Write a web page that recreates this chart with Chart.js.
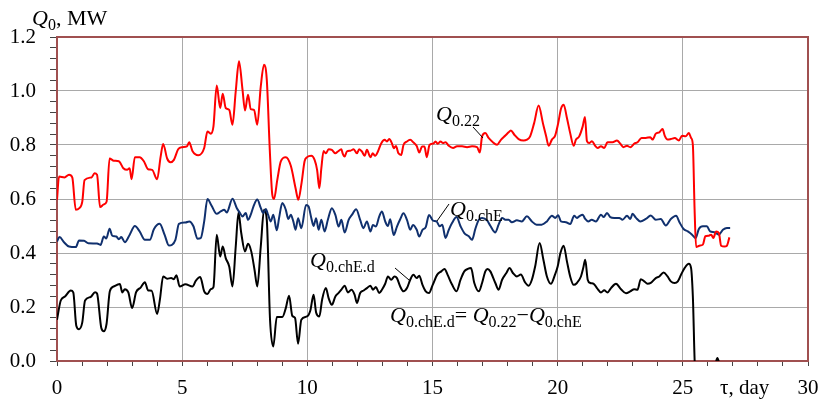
<!DOCTYPE html>
<html>
<head>
<meta charset="utf-8">
<script src="https://cdn.jsdelivr.net/npm/chart.js@4.4.1/dist/chart.umd.min.js"></script>
<style>
html,body{margin:0;padding:0;background:#ffffff;}
canvas{display:block;}
</style>
</head>
<body>
<canvas id="c" width="829" height="408"></canvas>
<script>
// ---- Data ----
// Q0.22 (red)
const tauRed = [0.00,0.08,0.30,0.48,0.61,0.75,0.88,1.01,1.10,1.38,1.50,1.60,1.72,1.87,1.98,2.10,2.27,2.47,2.65,2.80,2.90,2.98,3.11,3.30,3.47,3.64,3.80,4.00,4.14,4.24,4.40,4.53,4.67,4.84,5.00,5.19,5.28,5.41,5.64,5.88,6.01,6.14,6.25,6.38,6.52,6.62,6.74,6.88,7.01,7.14,7.27,7.41,7.51,7.63,7.74,7.87,8.00,8.14,8.27,8.38,8.50,8.60,8.67,8.80,8.94,9.14,9.34,9.53,9.64,9.77,9.89,9.99,10.16,10.29,10.39,10.48,10.56,10.65,10.74,10.85,10.98,11.12,11.22,11.36,11.41,11.49,11.58,11.72,11.85,11.98,12.07,12.18,12.29,12.38,12.52,12.61,12.71,12.82,12.95,13.09,13.18,13.27,13.38,13.45,13.54,13.64,13.75,13.84,13.98,14.11,14.24,14.37,14.47,14.58,14.68,14.77,14.88,15.03,15.12,15.21,15.32,15.42,15.52,15.65,15.82,15.98,16.18,16.38,16.58,16.78,16.89,16.98,17.11,17.24,17.38,17.58,17.74,17.91,18.04,18.13,18.27,18.44,18.64,18.77,18.90,19.06,19.24,19.41,19.54,19.64,19.77,19.90,20.02,20.13,20.24,20.37,20.50,20.64,20.73,20.86,21.00,21.09,21.17,21.26,21.37,21.50,21.60,21.73,21.86,21.99,22.19,22.37,22.50,22.63,22.77,22.90,23.06,23.19,23.35,23.52,23.70,23.79,23.92,24.06,24.19,24.28,24.39,24.52,24.68,24.84,24.97,25.11,25.24,25.33,25.40,25.47,25.53,25.66,25.80,25.90,26.04,26.13,26.22,26.33,26.44,26.53,26.66,26.76,26.86];
const q022 = [0.597,0.683,0.680,0.690,0.680,0.560,0.565,0.590,0.670,0.680,0.695,0.690,0.570,0.580,0.590,0.750,0.742,0.740,0.714,0.708,0.714,0.673,0.755,0.755,0.740,0.710,0.708,0.673,0.757,0.804,0.750,0.736,0.745,0.784,0.792,0.795,0.810,0.778,0.762,0.789,0.850,0.842,0.869,1.020,0.937,0.990,0.937,0.930,0.875,0.999,1.110,1.005,0.928,0.986,0.933,0.930,0.875,1.017,1.097,1.042,0.782,0.616,0.600,0.671,0.739,0.755,0.723,0.640,0.597,0.660,0.740,0.755,0.760,0.745,0.708,0.640,0.714,0.778,0.769,0.784,0.782,0.769,0.776,0.784,0.769,0.757,0.776,0.779,0.784,0.769,0.784,0.776,0.760,0.782,0.755,0.769,0.760,0.776,0.806,0.819,0.813,0.822,0.806,0.788,0.796,0.769,0.763,0.800,0.813,0.819,0.809,0.796,0.772,0.794,0.794,0.755,0.800,0.805,0.813,0.805,0.813,0.807,0.810,0.797,0.789,0.795,0.795,0.792,0.795,0.792,0.772,0.832,0.844,0.826,0.813,0.801,0.820,0.835,0.847,0.854,0.838,0.822,0.817,0.820,0.832,0.881,0.946,0.881,0.832,0.797,0.820,0.835,0.880,0.933,0.949,0.900,0.844,0.797,0.820,0.832,0.869,0.904,0.814,0.807,0.814,0.797,0.789,0.795,0.789,0.810,0.810,0.817,0.805,0.792,0.797,0.792,0.805,0.810,0.826,0.826,0.829,0.820,0.842,0.847,0.859,0.834,0.820,0.822,0.826,0.817,0.834,0.832,0.844,0.826,0.801,0.560,0.422,0.427,0.431,0.462,0.464,0.468,0.456,0.480,0.474,0.427,0.424,0.427,0.458];

// Q0.chE (dark blue)
const tauBlue = [0.00,0.10,0.28,0.48,0.75,0.88,1.08,1.25,1.60,1.74,1.87,1.97,2.10,2.20,2.37,2.47,2.57,2.71,2.90,3.11,3.30,3.51,3.71,3.87,4.10,4.30,4.47,4.73,4.87,5.13,5.28,5.45,5.61,5.74,5.88,6.01,6.17,6.38,6.54,6.68,6.78,7.01,7.18,7.31,7.41,7.54,7.63,7.74,7.85,8.00,8.14,8.24,8.34,8.43,8.54,8.64,8.78,8.87,9.00,9.14,9.24,9.34,9.44,9.53,9.63,9.76,9.95,10.05,10.16,10.25,10.35,10.45,10.56,10.69,10.82,10.98,11.12,11.25,11.36,11.49,11.65,11.78,11.95,12.11,12.24,12.38,12.52,12.62,12.74,12.87,12.98,13.11,13.22,13.31,13.45,13.58,13.71,13.84,13.98,14.11,14.22,14.37,14.47,14.60,14.73,14.86,15.02,15.16,15.29,15.39,15.52,15.65,15.78,15.96,16.12,16.27,16.45,16.58,16.71,16.85,16.98,17.18,17.31,17.51,17.64,17.78,17.91,18.04,18.17,18.37,18.57,18.77,18.97,19.16,19.36,19.57,19.77,19.90,20.02,20.13,20.33,20.50,20.66,20.77,20.86,21.00,21.10,21.22,21.36,21.53,21.73,21.84,21.97,22.10,22.26,22.46,22.59,22.77,22.90,22.99,23.13,23.30,23.52,23.72,23.92,24.12,24.32,24.52,24.73,24.87,25.03,25.20,25.37,25.51,25.64,25.80,25.96,26.09,26.26,26.44,26.60,26.76,26.89];
const q0chE = [0.443,0.459,0.440,0.424,0.422,0.446,0.445,0.436,0.435,0.430,0.461,0.454,0.490,0.465,0.461,0.451,0.459,0.440,0.467,0.500,0.480,0.449,0.449,0.488,0.508,0.467,0.428,0.449,0.508,0.513,0.517,0.499,0.453,0.455,0.517,0.600,0.576,0.545,0.554,0.560,0.550,0.601,0.567,0.548,0.535,0.548,0.523,0.542,0.573,0.598,0.567,0.548,0.563,0.542,0.517,0.542,0.484,0.529,0.585,0.560,0.526,0.542,0.517,0.486,0.529,0.492,0.578,0.572,0.529,0.500,0.529,0.486,0.523,0.480,0.523,0.566,0.541,0.498,0.523,0.476,0.523,0.541,0.562,0.523,0.492,0.517,0.480,0.504,0.498,0.535,0.554,0.517,0.500,0.525,0.467,0.498,0.525,0.547,0.523,0.486,0.504,0.486,0.461,0.486,0.496,0.541,0.520,0.517,0.499,0.505,0.456,0.486,0.511,0.533,0.499,0.474,0.462,0.449,0.489,0.523,0.530,0.521,0.501,0.476,0.505,0.530,0.523,0.523,0.514,0.521,0.517,0.536,0.517,0.505,0.505,0.517,0.538,0.530,0.540,0.517,0.514,0.507,0.538,0.530,0.536,0.542,0.526,0.517,0.523,0.517,0.542,0.533,0.548,0.533,0.530,0.530,0.523,0.538,0.526,0.545,0.530,0.517,0.526,0.539,0.523,0.526,0.502,0.526,0.538,0.513,0.489,0.480,0.468,0.455,0.489,0.499,0.499,0.480,0.477,0.468,0.486,0.493,0.493];

// Q0.chE.d (black)
const tauBlack = [0.00,0.15,0.32,0.55,0.65,0.77,0.88,1.01,1.12,1.34,1.52,1.60,1.77,1.87,1.98,2.11,2.27,2.51,2.61,2.71,2.85,3.00,3.16,3.34,3.51,3.64,3.78,4.00,4.11,4.24,4.40,4.56,4.67,4.77,4.90,5.13,5.41,5.55,5.72,5.88,6.01,6.14,6.25,6.38,6.52,6.62,6.74,6.88,7.01,7.14,7.25,7.36,7.51,7.63,7.76,7.89,8.00,8.14,8.27,8.38,8.51,8.64,8.78,9.00,9.14,9.27,9.40,9.51,9.63,9.76,9.99,10.12,10.25,10.35,10.48,10.59,10.74,10.85,10.98,11.12,11.25,11.36,11.49,11.62,11.76,11.89,11.98,12.11,12.25,12.38,12.52,12.62,12.74,12.87,12.98,13.11,13.22,13.35,13.48,13.58,13.71,13.84,13.98,14.11,14.24,14.37,14.47,14.60,14.73,14.86,15.00,15.19,15.35,15.48,15.60,15.78,15.96,16.12,16.27,16.41,16.54,16.67,16.85,16.98,17.11,17.20,17.31,17.51,17.64,17.78,17.95,18.08,18.21,18.37,18.53,18.70,18.84,18.97,19.10,19.28,19.43,19.57,19.73,19.89,20.00,20.11,20.24,20.37,20.50,20.64,20.77,20.93,21.02,21.10,21.20,21.30,21.44,21.57,21.73,21.86,21.99,22.13,22.33,22.53,22.73,22.90,23.06,23.19,23.32,23.46,23.59,23.72,23.92,24.06,24.23,24.39,24.52,24.67,24.80,24.93,25.07,25.24,25.33,25.40,25.50,25.80,26.10,26.30,26.38,26.46,26.70,26.90];
const q0chEd = [0.153,0.224,0.239,0.261,0.254,0.131,0.118,0.143,0.224,0.237,0.255,0.250,0.122,0.110,0.138,0.258,0.276,0.285,0.254,0.266,0.254,0.196,0.255,0.272,0.292,0.261,0.260,0.174,0.227,0.313,0.305,0.307,0.303,0.318,0.276,0.284,0.276,0.298,0.311,0.258,0.248,0.266,0.274,0.468,0.387,0.424,0.381,0.350,0.276,0.424,0.550,0.474,0.406,0.434,0.406,0.338,0.276,0.424,0.560,0.523,0.153,0.054,0.163,0.163,0.196,0.242,0.167,0.159,0.064,0.153,0.165,0.187,0.245,0.180,0.165,0.227,0.270,0.233,0.208,0.239,0.252,0.264,0.279,0.254,0.264,0.245,0.215,0.252,0.261,0.270,0.279,0.264,0.274,0.252,0.264,0.286,0.313,0.301,0.313,0.307,0.276,0.258,0.270,0.301,0.319,0.307,0.316,0.282,0.258,0.252,0.280,0.320,0.332,0.341,0.320,0.283,0.258,0.301,0.332,0.341,0.344,0.289,0.258,0.289,0.332,0.341,0.332,0.289,0.264,0.301,0.326,0.344,0.326,0.313,0.320,0.291,0.279,0.301,0.350,0.437,0.375,0.313,0.286,0.319,0.350,0.400,0.427,0.369,0.313,0.282,0.289,0.313,0.344,0.375,0.301,0.289,0.286,0.270,0.254,0.262,0.254,0.270,0.286,0.266,0.251,0.258,0.266,0.264,0.303,0.295,0.286,0.289,0.307,0.313,0.328,0.313,0.295,0.289,0.295,0.320,0.344,0.360,0.344,0.240,-0.050,-0.070,-0.020,-0.010,0.011,-0.010,-0.060,-0.040];

// Axis tick labels
const xTickLabels = ['0','5','10','15','20','25','30'];
const yTickLabels = ['0.0','0.2','0.4','0.6','0.8','1.0','1.2'];

// ---- Chart ----
const SERIF = '"Liberation Serif", "Times New Roman", serif';
const toPts = (xs, ys) => xs.map((x, i) => ({x: x, y: ys[i]}));
const isMajorY = v => Math.abs(v / 0.2 - Math.round(v / 0.2)) < 1e-6;
const isMajorX = v => Math.abs(v / 5 - Math.round(v / 5)) < 1e-6;
const GRID = '#a9a9a9';
const FRAME = '#a05050';

function drawQ(ctx, x, y, sub) {
  ctx.font = 'italic 22px ' + SERIF;
  ctx.fillText('Q', x, y);
  let w = ctx.measureText('Q').width;
  ctx.font = '16px ' + SERIF;
  ctx.fillText(sub, x + w, y + 5);
  w += ctx.measureText(sub).width;
  return x + w;
}

const decor = {
  id: 'decor',
  afterDraw(chart) {
    const ctx = chart.ctx;
    const a = chart.chartArea;
    ctx.save();
    // top and right frame
    ctx.strokeStyle = FRAME;
    ctx.lineWidth = 2;
    ctx.beginPath();
    ctx.moveTo(a.left, a.top);
    ctx.lineTo(a.right, a.top);
    ctx.lineTo(a.right, a.bottom);
    ctx.stroke();

    ctx.fillStyle = '#000';
    ctx.textBaseline = 'alphabetic';
    ctx.textAlign = 'left';
    // axis titles
    let e = drawQ(ctx, 32, 25, '0');
    ctx.font = '22px ' + SERIF;
    ctx.fillText(', MW', e, 25);
    ctx.font = '21px ' + SERIF;
    ctx.fillText('τ, day', 720, 394);

    // series labels
    drawQ(ctx, 436, 121, '0.22');
    drawQ(ctx, 450, 216, '0.chE');
    drawQ(ctx, 310, 267, '0.chE.d');
    // equation
    e = drawQ(ctx, 390, 322, '0.chE.d');
    ctx.font = '22px ' + SERIF;
    ctx.fillText('= ', e, 322);
    e += ctx.measureText('= ').width;
    e = drawQ(ctx, e, 322, '0.22');
    ctx.font = '22px ' + SERIF;
    ctx.fillText('\u2212', e, 322);
    e += ctx.measureText('\u2212').width;
    drawQ(ctx, e, 322, '0.chE');

    // leader lines
    ctx.strokeStyle = '#000';
    ctx.lineWidth = 1;
    ctx.beginPath();
    ctx.moveTo(473, 127); ctx.lineTo(483, 138);
    ctx.moveTo(449, 204); ctx.lineTo(437, 221);
    ctx.moveTo(395, 268); ctx.lineTo(409, 280);
    ctx.stroke();
    ctx.restore();
  }
};

new Chart(document.getElementById('c'), {
  type: 'line',
  data: {
    datasets: [
      {label: 'Q0.22', data: toPts(tauRed, q022), borderColor: '#ff0000', borderWidth: 2, pointRadius: 0, cubicInterpolationMode: 'monotone', fill: false, clip: 0},
      {label: 'Q0.chE', data: toPts(tauBlue, q0chE), borderColor: '#10306e', borderWidth: 2, pointRadius: 0, cubicInterpolationMode: 'monotone', fill: false, clip: 0},
      {label: 'Q0.chE.d', data: toPts(tauBlack, q0chEd), borderColor: '#000000', borderWidth: 2, pointRadius: 0, cubicInterpolationMode: 'monotone', fill: false, clip: 0}
    ]
  },
  options: {
    responsive: false,
    animation: false,
    devicePixelRatio: 1,
    layout: {padding: {top: 37, right: 21, left: 0, bottom: 0}},
    plugins: {legend: {display: false}, tooltip: {enabled: false}},
    scales: {
      x: {
        type: 'linear', min: 0, max: 30,
        afterFit(s) { s.height = 47; },
        afterBuildTicks(s) { const t = []; for (let i = 0; i <= 30; i++) t.push({value: i}); s.ticks = t; },
        ticks: {
          autoSkip: false, maxRotation: 0, padding: 10, color: '#000',
          font: {family: SERIF, size: 21},
          callback: v => isMajorX(v) ? xTickLabels[Math.round(v / 5)] : ''
        },
        grid: {
          color: c => (c.tick && isMajorX(c.tick.value)) ? GRID : 'rgba(0,0,0,0)',
          tickColor: '#444', tickLength: 5, lineWidth: 1
        },
        border: {color: FRAME, width: 2}
      },
      y: {
        type: 'linear', min: 0, max: 1.2,
        afterFit(s) { s.width = 57; },
        afterBuildTicks(s) { const t = []; for (let i = 0; i <= 30; i++) t.push({value: Math.round(i * 4) / 100}); s.ticks = t; },
        ticks: {
          autoSkip: false, padding: 14, color: '#000',
          font: {family: SERIF, size: 21},
          callback: v => isMajorY(v) ? yTickLabels[Math.round(v / 0.2)] : ''
        },
        grid: {
          color: c => (c.tick && isMajorY(c.tick.value)) ? GRID : 'rgba(0,0,0,0)',
          tickColor: '#444', tickLength: 7, lineWidth: 1
        },
        border: {color: FRAME, width: 2}
      }
    }
  },
  plugins: [decor]
});
</script>
</body>
</html>
